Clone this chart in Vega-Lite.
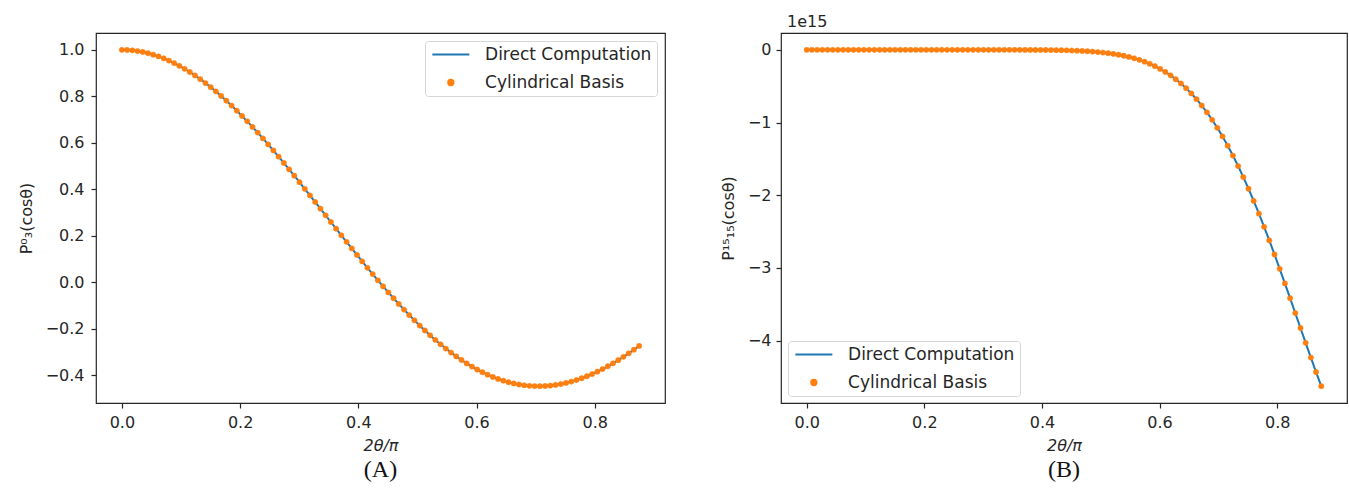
{
  "$schema": "https://vega.github.io/schema/vega-lite/v6.json",
  "background": "white",
  "padding": {"left": 17, "top": 14, "right": 0, "bottom": 0},
  "title": {"text": "1e15", "anchor": "start", "frame": "group", "dx": 691, "offset": 2, "fontSize": 16, "fontWeight": "normal", "font": "DejaVu Sans", "color": "#262626"},
  "datasets": {
    "curves": [
      {"x": 0, "a": 1, "b": 0},
      {"x": 0.00884, "a": 0.9994, "b": 0},
      {"x": 0.01768, "a": 0.9977, "b": 0},
      {"x": 0.02652, "a": 0.9948, "b": 0},
      {"x": 0.03535, "a": 0.9908, "b": 0},
      {"x": 0.04419, "a": 0.9856, "b": 0},
      {"x": 0.05303, "a": 0.9793, "b": 0},
      {"x": 0.06187, "a": 0.9719, "b": 0},
      {"x": 0.07071, "a": 0.9633, "b": 0},
      {"x": 0.07955, "a": 0.9537, "b": 0},
      {"x": 0.08838, "a": 0.943, "b": 0},
      {"x": 0.09722, "a": 0.9312, "b": 0},
      {"x": 0.10606, "a": 0.9184, "b": 0},
      {"x": 0.1149, "a": 0.9045, "b": 0},
      {"x": 0.12374, "a": 0.8897, "b": 0},
      {"x": 0.13258, "a": 0.8738, "b": 0},
      {"x": 0.14141, "a": 0.8571, "b": 0},
      {"x": 0.15025, "a": 0.8394, "b": 0},
      {"x": 0.15909, "a": 0.8208, "b": 0},
      {"x": 0.16793, "a": 0.8013, "b": 0},
      {"x": 0.17677, "a": 0.781, "b": 0},
      {"x": 0.18561, "a": 0.76, "b": 0},
      {"x": 0.19444, "a": 0.7381, "b": 0},
      {"x": 0.20328, "a": 0.7155, "b": 0},
      {"x": 0.21212, "a": 0.6923, "b": 0},
      {"x": 0.22096, "a": 0.6684, "b": 0},
      {"x": 0.2298, "a": 0.6438, "b": 0},
      {"x": 0.23864, "a": 0.6187, "b": 0},
      {"x": 0.24747, "a": 0.593, "b": 0},
      {"x": 0.25631, "a": 0.5669, "b": 0},
      {"x": 0.26515, "a": 0.5403, "b": -0.00001},
      {"x": 0.27399, "a": 0.5133, "b": -0.00001},
      {"x": 0.28283, "a": 0.4859, "b": -0.00002},
      {"x": 0.29167, "a": 0.4583, "b": -0.00003},
      {"x": 0.3005, "a": 0.4303, "b": -0.00005},
      {"x": 0.30934, "a": 0.4021, "b": -0.00007},
      {"x": 0.31818, "a": 0.3737, "b": -0.0001},
      {"x": 0.32702, "a": 0.3452, "b": -0.00015},
      {"x": 0.33586, "a": 0.3166, "b": -0.00021},
      {"x": 0.3447, "a": 0.2879, "b": -0.0003},
      {"x": 0.35354, "a": 0.2592, "b": -0.00042},
      {"x": 0.36237, "a": 0.2306, "b": -0.00058},
      {"x": 0.37121, "a": 0.2021, "b": -0.0008},
      {"x": 0.38005, "a": 0.1737, "b": -0.0011},
      {"x": 0.38889, "a": 0.1454, "b": -0.0015},
      {"x": 0.39773, "a": 0.1174, "b": -0.002},
      {"x": 0.40657, "a": 0.0897, "b": -0.0026},
      {"x": 0.4154, "a": 0.0622, "b": -0.0035},
      {"x": 0.42424, "a": 0.0351, "b": -0.0046},
      {"x": 0.43308, "a": 0.0084, "b": -0.0059},
      {"x": 0.44192, "a": -0.0178, "b": -0.0076},
      {"x": 0.45076, "a": -0.0436, "b": -0.0097},
      {"x": 0.4596, "a": -0.0689, "b": -0.0124},
      {"x": 0.46843, "a": -0.0936, "b": -0.0156},
      {"x": 0.47727, "a": -0.1177, "b": -0.0196},
      {"x": 0.48611, "a": -0.1412, "b": -0.0245},
      {"x": 0.49495, "a": -0.164, "b": -0.0303},
      {"x": 0.50379, "a": -0.1862, "b": -0.0374},
      {"x": 0.51263, "a": -0.2076, "b": -0.0458},
      {"x": 0.52146, "a": -0.2282, "b": -0.0558},
      {"x": 0.5303, "a": -0.2481, "b": -0.0676},
      {"x": 0.53914, "a": -0.2671, "b": -0.0814},
      {"x": 0.54798, "a": -0.2853, "b": -0.0977},
      {"x": 0.55682, "a": -0.3026, "b": -0.1165},
      {"x": 0.56566, "a": -0.3191, "b": -0.1383},
      {"x": 0.5745, "a": -0.3346, "b": -0.1634},
      {"x": 0.58333, "a": -0.3491, "b": -0.1922},
      {"x": 0.59217, "a": -0.3627, "b": -0.225},
      {"x": 0.60101, "a": -0.3754, "b": -0.2622},
      {"x": 0.60985, "a": -0.387, "b": -0.3042},
      {"x": 0.61869, "a": -0.3977, "b": -0.3514},
      {"x": 0.62753, "a": -0.4074, "b": -0.4046},
      {"x": 0.63636, "a": -0.4159, "b": -0.463},
      {"x": 0.6452, "a": -0.4235, "b": -0.5283},
      {"x": 0.65404, "a": -0.43, "b": -0.6003},
      {"x": 0.66288, "a": -0.4355, "b": -0.6794},
      {"x": 0.67172, "a": -0.4399, "b": -0.766},
      {"x": 0.68056, "a": -0.4433, "b": -0.8603},
      {"x": 0.68939, "a": -0.4456, "b": -0.9627},
      {"x": 0.69823, "a": -0.4469, "b": -1.0732},
      {"x": 0.70707, "a": -0.4472, "b": -1.192},
      {"x": 0.71591, "a": -0.4464, "b": -1.3193},
      {"x": 0.72475, "a": -0.4446, "b": -1.4549},
      {"x": 0.73359, "a": -0.4418, "b": -1.5988},
      {"x": 0.74242, "a": -0.438, "b": -1.751},
      {"x": 0.75126, "a": -0.4332, "b": -1.9111},
      {"x": 0.7601, "a": -0.4274, "b": -2.0788},
      {"x": 0.76894, "a": -0.4207, "b": -2.2535},
      {"x": 0.77778, "a": -0.413, "b": -2.435},
      {"x": 0.78662, "a": -0.4044, "b": -2.6225},
      {"x": 0.79545, "a": -0.395, "b": -2.8152},
      {"x": 0.80429, "a": -0.3846, "b": -3.0124},
      {"x": 0.81313, "a": -0.3734, "b": -3.2132},
      {"x": 0.82197, "a": -0.3615, "b": -3.4166},
      {"x": 0.83081, "a": -0.3487, "b": -3.6215},
      {"x": 0.83965, "a": -0.3351, "b": -3.8268},
      {"x": 0.84848, "a": -0.3209, "b": -4.0313},
      {"x": 0.85732, "a": -0.3059, "b": -4.2337},
      {"x": 0.86616, "a": -0.2903, "b": -4.4328},
      {"x": 0.875, "a": -0.2741, "b": -4.6273}
    ]
  },
  "spacing": 116,
  "bounds": "flush",
  "resolve": {
    "scale": {"color": "independent", "shape": "independent", "size": "independent", "stroke": "independent"},
    "legend": {"color": "independent", "shape": "independent", "size": "independent", "stroke": "independent"}
  },
  "hconcat": [
    {
      "width": 569,
      "height": 370,
      "title": {"text": "(A)", "orient": "bottom", "anchor": "middle", "font": "Liberation Serif", "fontSize": 24, "fontWeight": "normal", "color": "#111111", "offset": 5},
      "data": {"name": "curves"},
      "encoding": {
        "x": {"field": "x", "type": "quantitative", "scale": {"domain": [-0.04375, 0.91875], "nice": false, "zero": false},
              "axis": {"values": [0, 0.2, 0.4, 0.6, 0.8], "format": ".1f", "title": "2θ/π", "titleFontStyle": "italic", "titlePadding": 7, "labelPadding": 6}},
        "y": {"field": "a", "type": "quantitative", "scale": {"domain": [-0.51954, 1.07236], "nice": false, "zero": false},
              "axis": {"values": [-0.4, -0.2, 0, 0.2, 0.4, 0.6, 0.8, 1.0], "format": ".1f", "title": "P⁰₃(cosθ)", "titlePadding": 11, "labelPadding": 7}}
      },
      "layer": [
        {
          "mark": {"type": "line", "strokeWidth": 2},
          "encoding": {
            "color": {"datum": "Direct Computation", "scale": {"domain": ["Direct Computation", "Cylindrical Basis"], "range": ["#1f77b4", "#ff7f0e"]}, "legend": {"title": null, "orient": "top-right", "offset": 8}}
          }
        },
        {
          "mark": {"type": "point", "filled": true, "opacity": 1, "strokeWidth": 0.5},
          "encoding": {
            "color": {"datum": "Cylindrical Basis"},
            "stroke": {"datum": "Cylindrical Basis", "scale": {"domain": ["Direct Computation", "Cylindrical Basis"], "range": ["#1f77b4", "#ff7f0e"]}, "legend": {"title": null, "orient": "top-right", "offset": 8}},
            "shape": {"datum": "Cylindrical Basis", "scale": {"domain": ["Direct Computation", "Cylindrical Basis"], "range": ["M-3,0H3", "circle"]}, "legend": {"title": null, "orient": "top-right", "offset": 8}},
            "size": {"datum": "Cylindrical Basis", "type": "ordinal", "scale": {"domain": ["Direct Computation", "Cylindrical Basis"], "range": [152, 28]}, "legend": {"title": null, "orient": "top-right", "offset": 8}}
          }
        }
      ]
    },
    {
      "width": 566,
      "height": 370,
      "title": {"text": "(B)", "orient": "bottom", "anchor": "middle", "font": "Liberation Serif", "fontSize": 24, "fontWeight": "normal", "color": "#111111", "offset": 5},
      "data": {"name": "curves"},
      "encoding": {
        "x": {"field": "x", "type": "quantitative", "scale": {"domain": [-0.04375, 0.91875], "nice": false, "zero": false},
              "axis": {"values": [0, 0.2, 0.4, 0.6, 0.8], "format": ".1f", "title": "2θ/π", "titleFontStyle": "italic", "titlePadding": 7, "labelPadding": 6}},
        "y": {"field": "b", "type": "quantitative", "scale": {"domain": [-4.8587, 0.2314], "nice": false, "zero": false},
              "axis": {"values": [-4, -3, -2, -1, 0], "format": "d", "title": "P¹⁵₁₅(cosθ)", "titlePadding": 11, "labelPadding": 5}}
      },
      "layer": [
        {
          "mark": {"type": "line", "strokeWidth": 2},
          "encoding": {
            "color": {"datum": "Direct Computation", "scale": {"domain": ["Direct Computation", "Cylindrical Basis"], "range": ["#1f77b4", "#ff7f0e"]}, "legend": {"title": null, "orient": "bottom-left", "offset": 7}}
          }
        },
        {
          "mark": {"type": "point", "filled": true, "opacity": 1, "strokeWidth": 0.5},
          "encoding": {
            "color": {"datum": "Cylindrical Basis"},
            "stroke": {"datum": "Cylindrical Basis", "scale": {"domain": ["Direct Computation", "Cylindrical Basis"], "range": ["#1f77b4", "#ff7f0e"]}, "legend": {"title": null, "orient": "bottom-left", "offset": 7}},
            "shape": {"datum": "Cylindrical Basis", "scale": {"domain": ["Direct Computation", "Cylindrical Basis"], "range": ["M-3,0H3", "circle"]}, "legend": {"title": null, "orient": "bottom-left", "offset": 7}},
            "size": {"datum": "Cylindrical Basis", "type": "ordinal", "scale": {"domain": ["Direct Computation", "Cylindrical Basis"], "range": [152, 28]}, "legend": {"title": null, "orient": "bottom-left", "offset": 7}}
          }
        }
      ]
    }
  ],
  "config": {
    "font": "DejaVu Sans",
    "view": {"stroke": "#262626", "strokeWidth": 1.2},
    "axis": {"domain": false, "grid": false, "ticks": true, "tickColor": "#262626", "tickSize": 5, "tickWidth": 1.2,
             "labelFont": "DejaVu Sans", "labelFontSize": 16, "labelColor": "#262626", "labelPadding": 5,
             "titleFont": "DejaVu Sans", "titleFontSize": 16, "titleFontWeight": "normal", "titleColor": "#262626"},
    "legend": {"labelFont": "DejaVu Sans", "labelFontSize": 17, "labelColor": "#262626", "labelLimit": 400, "strokeColor": "#d6d6d6", "fillColor": "white",
               "padding": 5, "cornerRadius": 3, "rowPadding": 10, "symbolOffset": 12.35, "labelOffset": 25.7, "symbolStrokeWidth": 2}
  }
}
